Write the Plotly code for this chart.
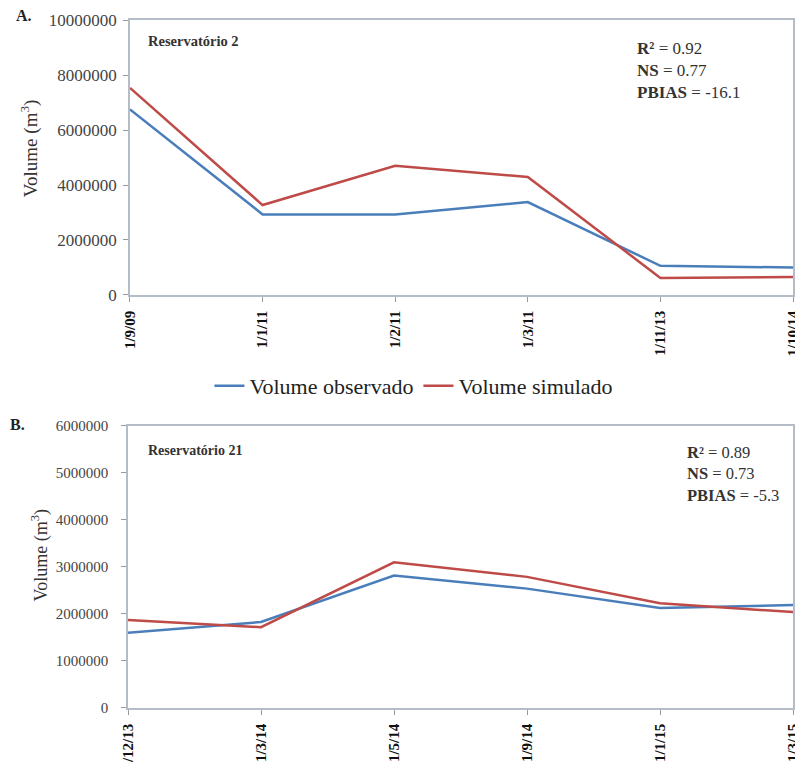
import plotly.graph_objects as go
from plotly.subplots import make_subplots

# Reservatório 2
datas_a = ["1/9/09", "1/1/11", "1/2/11", "1/3/11", "1/11/13", "1/10/14"]
obs_a = [6750000, 2930000, 2930000, 3380000, 1060000, 1000000]
sim_a = [7530000, 3270000, 4700000, 4290000, 620000, 650000]

# Reservatório 21
datas_b = ["1/12/13", "1/3/14", "1/5/14", "1/9/14", "1/1/15", "1/3/15"]
obs_b = [1600000, 1830000, 2820000, 2540000, 2130000, 2190000]
sim_b = [1870000, 1720000, 3100000, 2790000, 2230000, 2040000]

AZUL = "#4a7ebb"
VERMELHO = "#be4b48"
SERIF = "Liberation Serif"

fig = make_subplots(rows=2, cols=1, vertical_spacing=0.1)

fig.add_trace(go.Scatter(x=datas_a, y=obs_a, mode="lines", name="Volume observado",
                         line=dict(color=AZUL, width=2.5)), row=1, col=1)
fig.add_trace(go.Scatter(x=datas_a, y=sim_a, mode="lines", name="Volume simulado",
                         line=dict(color=VERMELHO, width=2.5)), row=1, col=1)
fig.add_trace(go.Scatter(x=datas_b, y=obs_b, mode="lines", name="Volume observado",
                         line=dict(color=AZUL, width=2.5), showlegend=False), row=2, col=1)
fig.add_trace(go.Scatter(x=datas_b, y=sim_b, mode="lines", name="Volume simulado",
                         line=dict(color=VERMELHO, width=2.5), showlegend=False), row=2, col=1)

eixo_x = dict(type="category", range=[0, 5], tickangle=-90, showline=True, mirror=True,
              linecolor="#b4bcc6", linewidth=1.5, ticks="outside", ticklen=5, tickcolor="#999",
              showgrid=False, zeroline=False, ticklabelstandoff=3, automargin=False,
              tickfont=dict(family=SERIF, size=15, color="#111", weight="bold"))
eixo_y = dict(showline=True, mirror=True, linecolor="#b4bcc6", linewidth=1.5,
              ticks="outside", ticklen=5, tickcolor="#999", showgrid=False, zeroline=False,
              tickformat="d", automargin=False)

fig.update_xaxes(**eixo_x)
fig.update_yaxes(**eixo_y)
fig.update_xaxes(domain=[0.003, 1.0], row=1, col=1)
fig.update_xaxes(domain=[0.0, 1.0], row=2, col=1)
fig.update_yaxes(domain=[0.6003, 1.0], range=[0, 10000000], dtick=2000000,
                 ticklabelstandoff=3,
                 tickfont=dict(family=SERIF, size=17, color="#444"), row=1, col=1)
fig.update_yaxes(domain=[0.0, 0.4099], range=[0, 6000000], dtick=1000000,
                 ticklabelstandoff=10,
                 tickfont=dict(family=SERIF, size=15, color="#444"), row=2, col=1)

anotacoes = [
    dict(text="<b>A.</b>", x=-0.172, y=1.007, xref="paper", yref="paper", xanchor="left",
         yanchor="middle", showarrow=False, font=dict(family=SERIF, size=16, color="#222")),
    dict(text="<b>B.</b>", x=-0.180, y=0.412, xref="paper", yref="paper", xanchor="left",
         yanchor="middle", showarrow=False, font=dict(family=SERIF, size=16, color="#222")),
    dict(text="Volume (m<sup>3</sup>)", x=-0.147, y=0.814, xref="paper", yref="paper",
         textangle=-90, showarrow=False, xanchor="center", yanchor="middle",
         font=dict(family=SERIF, size=19, color="#333")),
    dict(text="Volume (m<sup>3</sup>)", x=-0.132, y=0.222, xref="paper", yref="paper",
         textangle=-90, showarrow=False, xanchor="center", yanchor="middle",
         font=dict(family=SERIF, size=18, color="#333")),
    dict(text="<b>Reservatório 2</b>", x=0.027, y=0.969, xref="paper", yref="paper",
         xanchor="left", yanchor="middle", showarrow=False,
         font=dict(family=SERIF, size=14.5, color="#333")),
    dict(text="<b>Reservatório 21</b>", x=0.027, y=0.374, xref="paper", yref="paper",
         xanchor="left", yanchor="middle", showarrow=False,
         font=dict(family=SERIF, size=14, color="#333")),
    dict(text="<b>R²</b> = 0.92<br><b>NS</b> = 0.77<br><b>PBIAS</b> = -16.1",
         x=0.763, y=0.975, xref="paper", yref="paper", xanchor="left", yanchor="top",
         align="left", showarrow=False, font=dict(family=SERIF, size=17, color="#333")),
    dict(text="<b>R²</b> = 0.89<br><b>NS</b> = 0.73<br><b>PBIAS</b> = -5.3",
         x=0.838, y=0.388, xref="paper", yref="paper", xanchor="left", yanchor="top",
         align="left", showarrow=False, font=dict(family=SERIF, size=16.5, color="#333")),
]

fig.update_layout(
    width=795, height=762,
    margin=dict(l=128, r=2, t=20, b=54, autoexpand=False),
    paper_bgcolor="white", plot_bgcolor="white",
    font=dict(family=SERIF),
    annotations=anotacoes,
    legend=dict(orientation="h", x=0.43, y=0.468, xanchor="center", yanchor="middle",
                font=dict(family=SERIF, size=22, color="#222"), itemwidth=30,
                bgcolor="rgba(0,0,0,0)"),
)

fig.write_html("out.html")
